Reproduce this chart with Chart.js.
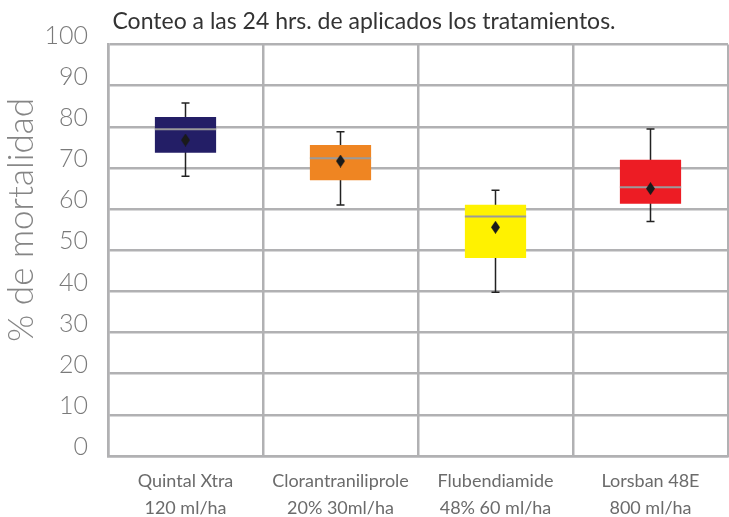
<!DOCTYPE html>
<html>
<head>
<meta charset="utf-8">
<script src="https://cdn.jsdelivr.net/npm/chart.js@4/dist/chart.umd.min.js"></script>
<style>
  html, body { margin: 0; padding: 0; background: #fff; overflow: hidden; }
  canvas { display: block; }
</style>
</head>
<body>
<canvas id="boxChart" width="729" height="517"></canvas>
<script>
// Treatments (two-line labels)
const categories = [
  ["Quintal Xtra", "120 ml/ha"],
  ["Clorantraniliprole", "20% 30ml/ha"],
  ["Flubendiamide", "48% 60 ml/ha"],
  ["Lorsban 48E", "800 ml/ha"]
]

// Box plot values, % mortality
const whiskerMin = [68, 61, 39.8, 57]
const boxQ1 = [73.7, 67, 48.1, 61.3]
const medians = [79.4, 72.4, 58.2, 65.3]
const boxQ3 = [82.4, 75.6, 61.1, 72]
const whiskerMax = [85.8, 78.8, 64.6, 79.5]
const means = [76.8, 71.7, 55.6, 65]

const boxColors = ["#231e66", "#ef8522", "#fff200", "#ed1c24"]
const yTicks = [0, 10, 20, 30, 40, 50, 60, 70, 80, 90, 100]
const yTitle = "% de mortalidad"

// Elongated diamond for the mean marker
function makeDiamond() {
  const c = document.createElement("canvas")
  c.width = 9
  c.height = 13
  const g = c.getContext("2d")
  g.fillStyle = "#1a1a1a"
  g.beginPath()
  g.moveTo(4.5, 0)
  g.lineTo(9, 6.5)
  g.lineTo(4.5, 13)
  g.lineTo(0, 6.5)
  g.closePath()
  g.fill()
  return c
}

// Whiskers behind the boxes, medians on top of the boxes
const boxExtras = {
  id: "boxExtras",
  beforeDatasetsDraw(chart) {
    const meta = chart.getDatasetMeta(1)
    const y = chart.scales.y
    const ctx = chart.ctx
    ctx.save()
    ctx.strokeStyle = "#222"
    ctx.lineWidth = 1.5
    meta.data.forEach((bar, i) => {
      const top = y.getPixelForValue(whiskerMax[i])
      const bottom = y.getPixelForValue(whiskerMin[i])
      ctx.beginPath()
      ctx.moveTo(bar.x, top)
      ctx.lineTo(bar.x, bottom)
      ctx.moveTo(bar.x - 4, top)
      ctx.lineTo(bar.x + 4, top)
      ctx.moveTo(bar.x - 4, bottom)
      ctx.lineTo(bar.x + 4, bottom)
      ctx.stroke()
    })
    ctx.restore()
  },
  afterDatasetDraw(chart, args) {
    if (args.index !== 1) return
    const y = chart.scales.y
    const ctx = chart.ctx
    ctx.save()
    ctx.strokeStyle = "#9a9a9a"
    ctx.lineWidth = 2
    args.meta.data.forEach((bar, i) => {
      const py = y.getPixelForValue(medians[i])
      ctx.beginPath()
      ctx.moveTo(bar.x - bar.width / 2, py)
      ctx.lineTo(bar.x + bar.width / 2, py)
      ctx.stroke()
    })
    ctx.restore()
  },
  // y axis title, sits a bit above the middle of the axis like the original
  afterDraw(chart) {
    const ctx = chart.ctx
    ctx.save()
    ctx.translate(22, 220)
    ctx.rotate(-Math.PI / 2)
    ctx.fillStyle = "#858585"
    ctx.font = "300 35px Lato"
    ctx.textAlign = "center"
    ctx.textBaseline = "middle"
    ctx.fillText(yTitle, 0, 0)
    ctx.restore()
  }
}

const gridColor = "#b1b1b3"
const ctx = document.getElementById("boxChart").getContext("2d")

new Chart(ctx, {
  type: "bar",
  data: {
    labels: categories,
    datasets: [
      {
        type: "line",
        label: "Media",
        data: means,
        showLine: false,
        pointStyle: makeDiamond(),
        pointRadius: 6,
        order: 0
      },
      {
        label: "Caja",
        data: boxQ1.map((q1, i) => [q1, boxQ3[i]]),
        backgroundColor: boxColors,
        borderWidth: 0,
        barPercentage: 0.395,
        categoryPercentage: 1,
        order: 1
      }
    ]
  },
  options: {
    responsive: false,
    animation: false,
    layout: { autoPadding: false, padding: { right: 1, left: 0, bottom: 0 } },
    plugins: {
      legend: { display: false },
      tooltip: { enabled: false },
      title: {
        display: true,
        text: "Conteo a las 24 hrs. de aplicados los tratamientos.",
        color: "#333",
        font: { family: "Lato", size: 23, weight: "normal" },
        padding: { top: 8, bottom: 9 }
      }
    },
    scales: {
      x: {
        grid: { color: gridColor, lineWidth: 2.5, drawTicks: false, offset: true },
        border: { color: gridColor, width: 2.5 },
        ticks: {
          color: "#6b6b6b",
          font: { family: "Lato", size: 18, lineHeight: 1.5 },
          padding: 12,
          maxRotation: 0
        },
        afterFit: (scale) => {
          scale.height = 61
          scale.paddingLeft = 0
          scale.paddingRight = 0
        }
      },
      y: {
        min: 0,
        max: 100,
        afterBuildTicks: (scale) => { scale.ticks = yTicks.map((v) => ({ value: v })) },
        grid: { color: gridColor, lineWidth: 2.5, drawTicks: false },
        border: { color: gridColor, width: 2.5 },
        ticks: {
          color: "#7a7a7a",
          font: { family: "Lato", size: 25, weight: "300" },
          padding: 20,
          labelOffset: -9
        },
        afterFit: (scale) => { scale.width = 108 }
      }
    }
  },
  plugins: [boxExtras]
})
</script>
</body>
</html>
